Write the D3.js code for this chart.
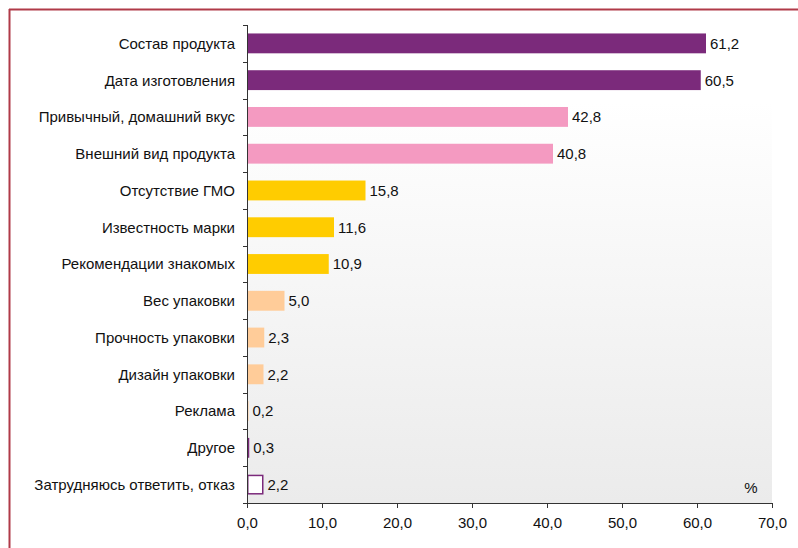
<!DOCTYPE html>
<html>
<head>
<meta charset="utf-8">
<script src="https://cdn.jsdelivr.net/npm/d3@7"></script>
<style>
  body { margin: 0; background: #fff; }
  text { font-family: "Liberation Sans", Arial, sans-serif; fill: #111; }
</style>
</head>
<body>
<svg id="chart"></svg>
<script>
// chart data
const categories = [
  'Состав продукта', 'Дата изготовления', 'Привычный, домашний вкус',
  'Внешний вид продукта', 'Отсутствие ГМО', 'Известность марки',
  'Рекомендации знакомых', 'Вес упаковки', 'Прочность упаковки',
  'Дизайн упаковки', 'Реклама', 'Другое', 'Затрудняюсь ответить, отказ'
];
const values = [61.2, 60.5, 42.8, 40.8, 15.8, 11.6, 10.9, 5.0, 2.3, 2.2, 0.2, 0.3, 2.2];
const groups = ['a', 'a', 'b', 'b', 'c', 'c', 'c', 'd', 'd', 'd', 'd', 'a', 'e'];
const xTicks = [0, 10, 20, 30, 40, 50, 60, 70];

const fillColor = {a: '#7b2a7b', b: '#f49ac1', c: '#ffcc00', d: '#ffcc99', e: '#ffffff'};

const width = 798, height = 548;
const margin = {top: 25, right: 26, bottom: 45, left: 247};
const innerW = width - margin.left - margin.right;
const innerH = height - margin.top - margin.bottom;
const fontSize = 15;

const svg = d3.select('#chart')
  .attr('width', width)
  .attr('height', height);

// background gradient of the plot area (white on top, light gray at bottom)
const defs = svg.append('defs');
const grad = defs.append('linearGradient')
  .attr('id', 'bg')
  .attr('x1', '0').attr('y1', '0')
  .attr('x2', '0').attr('y2', '1');
grad.append('stop').attr('offset', '0%').attr('stop-color', '#ffffff');
grad.append('stop').attr('offset', '16%').attr('stop-color', '#ffffff');
grad.append('stop').attr('offset', '100%').attr('stop-color', '#ebebeb');

// outer frame (top and left lines)
svg.append('line')
  .attr('x1', 9).attr('x2', width).attr('y1', 9.5).attr('y2', 9.5)
  .attr('stroke', '#b03a48').attr('stroke-width', 2);
svg.append('line')
  .attr('x1', 9.5).attr('x2', 9.5).attr('y1', 9).attr('y2', height)
  .attr('stroke', '#b03a48').attr('stroke-width', 2);

const chart = svg.append('g')
  .attr('transform', `translate(${margin.left}, ${margin.top})`);

chart.append('rect')
  .attr('width', innerW).attr('height', innerH)
  .attr('fill', 'url(#bg)');

// scales
const xScale = d3.scaleLinear().domain([0, 70]).range([0, innerW]);
const yScale = d3.scaleBand().domain(categories).range([0, innerH])
  .paddingInner(0.46).paddingOuter(0.23);

// bars
chart.selectAll('.bar')
  .data(categories)
  .join('rect')
  .attr('class', 'bar')
  .attr('x', (d, i) => groups[i] === 'e' ? 0.75 : 0)
  .attr('y', (d, i) => yScale(d) + (groups[i] === 'e' ? 0.75 : 0))
  .attr('width', (d, i) => groups[i] === 'e' ? xScale(values[i]) - 1.5 : xScale(values[i]))
  .attr('height', (d, i) => groups[i] === 'e' ? yScale.bandwidth() - 1.5 : yScale.bandwidth())
  .attr('fill', (d, i) => fillColor[groups[i]])
  .attr('stroke', (d, i) => groups[i] === 'e' ? '#7b2a7b' : 'none')
  .attr('stroke-width', 1.5);

// value labels
chart.selectAll('.val')
  .data(categories)
  .join('text')
  .attr('class', 'val')
  .attr('x', (d, i) => xScale(values[i]) + 4)
  .attr('y', d => yScale(d) + yScale.bandwidth() / 2)
  .attr('dy', '0.36em')
  .attr('font-size', fontSize)
  .text((d, i) => values[i].toFixed(1).replace('.', ','));

// y axis: ticks between categories
const step = innerH / categories.length;
const yLine = chart.append('g').attr('class', 'y-axis');
yLine.append('line')
  .attr('x1', 0.5).attr('x2', 0.5).attr('y1', 0).attr('y2', innerH)
  .attr('stroke', '#333');
yLine.selectAll('.ytick')
  .data(d3.range(categories.length + 1))
  .join('line')
  .attr('class', 'ytick')
  .attr('x1', -4).attr('x2', 0.5)
  .attr('y1', i => Math.round(i * step) + 0.5)
  .attr('y2', i => Math.round(i * step) + 0.5)
  .attr('stroke', '#333');
yLine.selectAll('.ylab')
  .data(categories)
  .join('text')
  .attr('class', 'ylab')
  .attr('x', -12)
  .attr('y', d => yScale(d) + yScale.bandwidth() / 2)
  .attr('dy', '0.36em')
  .attr('text-anchor', 'end')
  .attr('font-size', fontSize)
  .text(d => d);

// x axis
const xAxis = d3.axisBottom(xScale)
  .tickValues(xTicks)
  .tickSizeInner(5)
  .tickSizeOuter(0)
  .tickPadding(9)
  .tickFormat(d => d.toFixed(1).replace('.', ','));
const xGroup = chart.append('g')
  .attr('class', 'x-axis')
  .attr('transform', `translate(0, ${innerH})`)
  .call(xAxis);
xGroup.select('.domain').attr('stroke', '#333');
xGroup.selectAll('.tick line').attr('stroke', '#333');
xGroup.selectAll('.tick text')
  .attr('font-size', fontSize)
  .attr('fill', '#111')
  .attr('font-family', '"Liberation Sans", Arial, sans-serif');

// unit label
chart.append('text')
  .attr('x', xScale(67.2))
  .attr('y', innerH - 10)
  .attr('text-anchor', 'middle')
  .attr('font-size', fontSize)
  .text('%');
</script>
</body>
</html>
